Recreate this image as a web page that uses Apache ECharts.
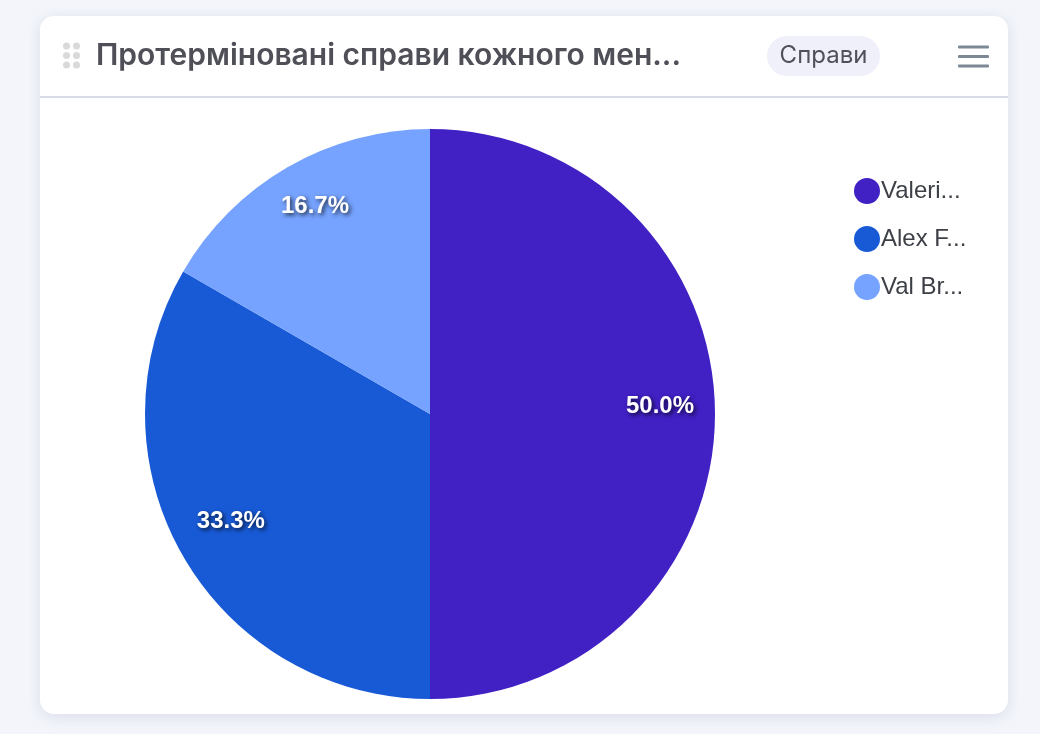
<!DOCTYPE html>
<html>
<head>
<meta charset="utf-8">
<style>html,body{margin:0;padding:0;background:#f3f5fb}#c{width:1040px;height:734px}</style>
<script src="https://cdn.jsdelivr.net/npm/echarts@6/dist/echarts.min.js"></script>
</head>
<body>
<div id="c"></div>
<script>
const titleText = 'Протерміновані справи кожного мен...';
const badgeText = 'Справи';
const categories = ['Valeri...', 'Alex F...', 'Val Br...'];
const values = [3, 2, 1];
const colors = ['#4120C4', '#185AD6', '#76A3FF'];

const chart = echarts.init(document.getElementById('c'), null, {renderer: 'canvas'});
const dots = [];
[66.5, 76.5].forEach(x => [46, 55.5, 65].forEach(y => dots.push({
  type: 'circle', silent: true, z: 2, shape: {cx: x, cy: y, r: 3.5}, style: {fill: '#d9d9d9'}
})));
const bars = [47, 56.5, 66].map(y => ({
  type: 'rect', silent: true, z: 2, shape: {x: 958, y: y - 1.5, width: 31, height: 3, r: 1}, style: {fill: '#7c8894'}
}));
const data = categories.map((name, i) => ({name, value: values[i], itemStyle: {color: colors[i]}}));

chart.setOption({
  animation: false,
  backgroundColor: '#f3f5fb',
  textStyle: {fontFamily: 'Liberation Sans'},
  graphic: {elements: [
    {type: 'rect', silent: true, z: 0, shape: {x: 40, y: 16, width: 968, height: 698, r: 14},
     style: {fill: '#fff', shadowBlur: 14, shadowColor: 'rgba(60,70,110,0.13)', shadowOffsetY: 3}},
    {type: 'rect', silent: true, z: 1, shape: {x: 40, y: 96, width: 968, height: 2}, style: {fill: '#d9dbe7'}},
    ...dots,
    {type: 'text', silent: true, z: 2, x: 96, y: 56,
     style: {text: titleText, fill: '#4f4f57', font: '600 30px Inter', textVerticalAlign: 'middle', textAlign: 'left'}},
    {type: 'rect', silent: true, z: 1, shape: {x: 767, y: 36, width: 113, height: 40, r: 20}, style: {fill: '#eff0fa'}},
    {type: 'text', silent: true, z: 2, x: 823.5, y: 56,
     style: {text: badgeText, fill: '#50505a', font: '400 24px Inter', textVerticalAlign: 'middle', textAlign: 'center'}},
    ...bars
  ]},
  legend: {
    orient: 'vertical', left: 849, top: 173,
    icon: 'circle', itemWidth: 26, itemHeight: 26, itemGap: 22,
    selectedMode: false,
    formatter: n => n,
    textStyle: {fontFamily: 'Liberation Sans', fontSize: 24, color: '#3c3f46', padding: [0, 0, 0, -4]},
    data: categories
  },
  series: [
    {type: 'pie', center: [430, 414], radius: [0, 285], startAngle: 90, clockwise: true, silent: true,
     label: {show: false}, labelLine: {show: false}, data},
    {type: 'pie', center: [430, 414], radius: [169, 285], startAngle: 90, clockwise: true, silent: true,
     itemStyle: {color: 'transparent'}, labelLine: {show: false},
     label: {show: true, position: 'inside', offset: [0, -8],
       formatter: p => p.percent.toFixed(1) + '%',
       color: '#fff', fontFamily: 'Liberation Sans', fontWeight: 'bold', fontSize: 24,
       textShadowColor: 'rgba(0,0,0,0.75)', textShadowBlur: 4, textShadowOffsetX: 2, textShadowOffsetY: 2},
     data: categories.map((name, i) => ({name, value: values[i], itemStyle: {color: 'transparent'}}))}
  ]
});
</script>
</body>
</html>
